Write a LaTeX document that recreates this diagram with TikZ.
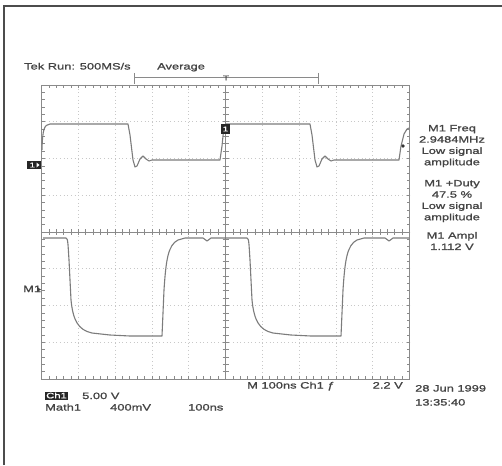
\documentclass[tikz,border=0pt]{standalone}
\usepackage{fontspec}
\newfontfamily\scopefont[FakeStretch=1.4,FakeBold=1.2]{Liberation Sans}
\definecolor{tracegray}{HTML}{7C7C7C}
\definecolor{gridgray}{HTML}{8A8A8A}
\definecolor{dotgray}{HTML}{C8C8C8}
\definecolor{textgray}{HTML}{444444}
\tikzset{
  trace/.style={tracegray, line width=1.1pt, line join=round},
  gridline/.style={gridgray, line width=0.9pt},
  griddots/.style={dotgray, line width=0.8pt, dash pattern=on 1pt off 2.68pt},
  scopetext/.style={font=\scopefont\fontsize{9.2}{11.3}\selectfont, text=textgray, inner sep=0pt},
  marker/.style={fill=black!85, text=white, inner sep=0pt, font=\scopefont\fontsize{7}{7}\selectfont}
}
\begin{document}
\begin{tikzpicture}[x=1pt,y=-1pt]
  \useasboundingbox (0,0) rectangle (502,465);
  \fill[white] (0,0) rectangle (502,465);

  % page frame, left and top only
  \draw[black!70, line width=1.7pt] (4,465) -- (4,5.8) -- (502,5.8);

  \begin{scope}
    \clip (18,52) rectangle (486,412);

    % graticule
    \foreach \i in {1,...,9}
      \draw[griddots] ({41.5+\i*36.8},85) -- ++(0,294);
    \foreach \j in {1,...,7}
      \draw[griddots] (41.5,{85+\j*36.75}) -- ++(368,0);
    \draw[gridline] (41.5,85) rectangle (409.5,379);
    \draw[gridline] (225.5,85) -- (225.5,379);
    \draw[gridline] (41.5,232) -- (409.5,232);
    \foreach \k in {1,...,49} {
      \draw[gridline, line width=0.7pt] ({41.5+\k*7.36},85) -- ++(0,3);
      \draw[gridline, line width=0.7pt] ({41.5+\k*7.36},379) -- ++(0,-3);
      \draw[gridline, line width=0.7pt] ({41.5+\k*7.36},229) -- ++(0,6);
    }
    \foreach \k in {1,...,39} {
      \draw[gridline, line width=0.7pt] (41.5,{85+\k*7.35}) -- ++(3,0);
      \draw[gridline, line width=0.7pt] (409.5,{85+\k*7.35}) -- ++(-3,0);
      \draw[gridline, line width=0.7pt] (222.5,{85+\k*7.35}) -- ++(6,0);
    }

    % trigger window
    \draw[gridline] (134,73) -- (134,84) (134,77.5) -- (318,77.5) (318,73) -- (318,84);
    \node[scopetext, font=\scopefont\fontsize{7}{7}\selectfont] (trig) at (226,78) {T};

    % channel 1
    \draw[trace] (42,150) .. controls (42.5,130) and (44,124.5) .. (50,124)
      -- (128,124) -- (130,135) -- (133,160) -- (135,167) -- (137,166)
      -- (140,159) -- (143,156) -- (146,159) -- (149,161) -- (152,160)
      -- (220,160) -- (222,146) -- (224,126) -- (226,124)
      -- (310,124) -- (312,135) -- (315,160) -- (317,167) -- (319,166)
      -- (322,159) -- (325,156) -- (328,159) -- (331,161) -- (334,160)
      -- (399,160) -- (401,146) -- (404,134) -- (407,129) -- (409,128);

    % math 1
    \draw[trace] (43,238) -- (66,238) .. controls (68,238) and (68,245) .. (69,260)
      -- (71,300) .. controls (73,320) and (78,330) .. (92,333)
      -- (110,335) -- (130,336) -- (162,336)
      -- (164,290) .. controls (166,260) and (168,245) .. (178,240)
      -- (185,238) -- (203,238) -- (207,241) -- (211,238)
      -- (247,238) .. controls (249,238) and (249,245) .. (250,260)
      -- (252,300) .. controls (254,320) and (259,330) .. (273,333)
      -- (291,335) -- (311,336) -- (341,336)
      -- (343,290) .. controls (345,260) and (347,245) .. (357,240)
      -- (364,238) -- (385,238) -- (389,241) -- (393,238) -- (409,238);

    % markers
    \node[marker, minimum width=14pt, minimum height=8pt] (chmark) at (33.5,165) {1\,\,};
    \fill[white] (36.5,162.5) -- (39.5,165) -- (36.5,167.5) -- cycle;
    \node[marker, minimum width=9pt, minimum height=10pt] (trigmark) at (225.5,129) {1};
    \fill[black!80] (403,146) circle (1.8);
    \node[scopetext, anchor=base west] (mathlabel) at (23,292) {M1};
    \fill[textgray] (37,287) -- (41,289.5) -- (37,292) -- cycle;

    % header
    \node[scopetext, anchor=base west] (runstate) at (24,69.5) {Tek Run: 500MS/s};
    \node[scopetext, anchor=base west] (acqmode) at (157,69.5) {Average};

    % measurements
    \node[scopetext, anchor=north, align=center] (freq) at (452,124.8)
      {M1 Freq\\2.9484MHz\\Low signal\\amplitude};
    \node[scopetext, anchor=north, align=center] (duty) at (452,179.8)
      {M1 +Duty\\47.5 \%\\Low signal\\amplitude};
    \node[scopetext, anchor=north, align=center] (ampl) at (452,231.8)
      {M1 Ampl\\1.112 V};

    % footer
    \node[scopetext, anchor=base west] (timebase) at (247,388.5) {M 100ns  Ch1 ƒ};
    \node[scopetext, anchor=base east] (triglevel) at (403,388.5) {2.2 V};
    \node[scopetext, anchor=base west] (date) at (415,391.5) {28 Jun 1999};
    \node[scopetext, anchor=base west] (clock) at (415,405.5) {13:35:40};
    \node[marker, minimum width=23pt, minimum height=8pt, font=\scopefont\fontsize{8}{8}\selectfont] (chbox) at (56.5,395.5) {Ch1};
    \node[scopetext, anchor=base west] (chscale) at (82,399) {5.00 V};
    \node[scopetext, anchor=base west] (mathname) at (45,410.5) {Math1};
    \node[scopetext, anchor=base west] (mathscale) at (110,410.5) {400mV};
    \node[scopetext, anchor=base west] (mathtime) at (188,410.5) {100ns};
  \end{scope}
\end{tikzpicture}
\end{document}
